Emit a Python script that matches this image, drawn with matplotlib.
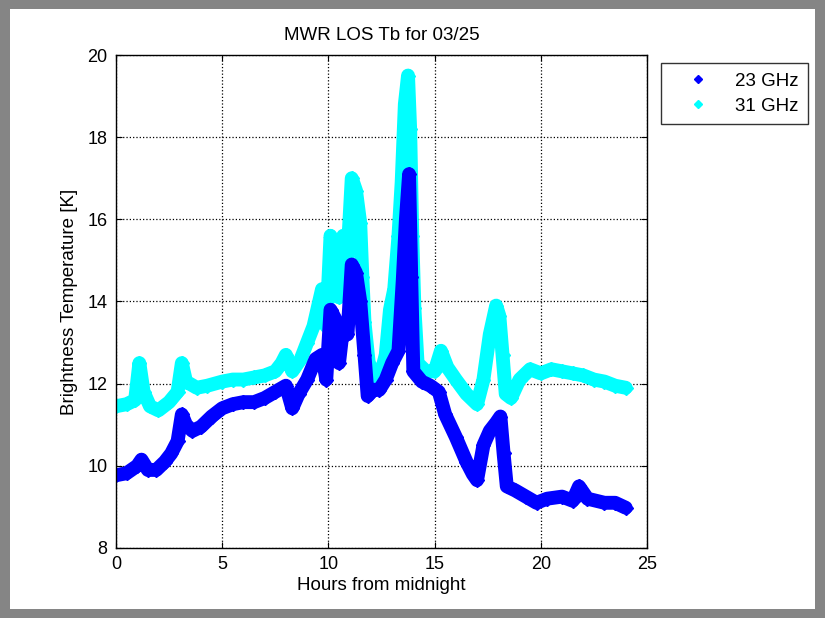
import matplotlib
matplotlib.use('Agg')
from matplotlib import pyplot as plt
from matplotlib.lines import Line2D
from matplotlib.patches import Rectangle
import numpy as np

plt.rcParams['font.family'] = ['Liberation Sans', 'DejaVu Sans']

# 31 GHz brightness temperature
hours_31 = [0.0, 0.5, 0.9, 1.1, 1.3, 1.6, 2.0, 2.5, 2.9, 3.1, 3.3, 3.8, 4.3, 5.0,
            5.5, 6.0, 6.5, 7.0, 7.5, 7.8, 8.0, 8.3, 8.7, 9.0, 9.3, 9.5, 9.7, 9.9,
            10.1, 10.3, 10.5, 10.7, 10.9, 11.1, 11.3, 11.5, 11.6, 11.7, 11.9, 12.1,
            12.4, 12.7, 12.9, 13.1, 13.3, 13.45, 13.6, 13.75, 13.85, 13.95, 14.05,
            14.2, 14.6, 15.0, 15.3, 15.6, 16.0, 16.5, 17.0, 17.3, 17.6, 17.9, 18.05,
            18.2, 18.35, 18.6, 19.0, 19.5, 20.0, 20.5, 21.0, 21.5, 22.0, 22.5, 23.0,
            23.5, 24.0]
tb_31 = [11.45, 11.5, 11.6, 12.5, 11.8, 11.45, 11.35, 11.55, 11.8, 12.5, 12.05,
         11.9, 11.95, 12.05, 12.1, 12.1, 12.15, 12.2, 12.3, 12.5, 12.7, 12.3, 12.6,
         13.0, 13.4, 13.85, 14.3, 13.4, 15.6, 15.1, 14.1, 15.6, 15.1, 17.0, 16.7,
         15.9, 14.6, 13.5, 12.5, 12.2, 12.1, 12.7, 13.8, 14.3, 15.6, 16.9, 18.8,
         19.5, 18.2, 15.6, 13.85, 12.5, 12.3, 12.3, 12.8, 12.4, 12.1, 11.75, 11.5,
         12.1, 13.2, 13.9, 13.65, 12.7, 11.75, 11.65, 12.1, 12.35, 12.25, 12.35,
         12.3, 12.25, 12.2, 12.1, 12.05, 11.95, 11.9]

# 23 GHz brightness temperature
hours_23 = [0.0, 0.5, 1.0, 1.2, 1.5, 1.9, 2.3, 2.6, 2.9, 3.1, 3.3, 3.6, 4.0, 4.5,
            5.0, 5.5, 6.0, 6.5, 7.0, 7.5, 8.0, 8.3, 8.6, 9.0, 9.4, 9.7, 9.9, 10.1,
            10.3, 10.5, 10.7, 10.9, 11.1, 11.3, 11.5, 11.7, 11.85, 12.1, 12.4, 12.7,
            13.0, 13.3, 13.5, 13.65, 13.8, 13.9, 14.0, 14.4, 14.8, 15.2, 15.5, 16.0,
            16.5, 16.8, 17.0, 17.3, 17.6, 17.9, 18.1, 18.25, 18.4, 18.8, 19.3, 19.8,
            20.3, 21.0, 21.5, 21.8, 22.2, 23.0, 23.5, 24.0]
tb_23 = [9.77, 9.82, 10.0, 10.15, 9.9, 9.9, 10.1, 10.3, 10.6, 11.25, 11.0, 10.85,
         10.95, 11.2, 11.4, 11.5, 11.55, 11.55, 11.65, 11.8, 11.95, 11.4, 11.75,
         12.1, 12.6, 12.7, 12.1, 13.8, 13.6, 12.5, 13.4, 13.2, 14.9, 14.7, 14.0,
         12.7, 11.7, 11.85, 11.85, 12.1, 12.5, 12.8, 14.5, 16.0, 17.1, 14.6, 12.3,
         12.05, 11.95, 11.8, 11.25, 10.7, 10.1, 9.8, 9.65, 10.5, 10.85, 11.05, 11.2,
         10.3, 9.5, 9.4, 9.25, 9.1, 9.2, 9.25, 9.15, 9.5, 9.2, 9.1, 9.1, 8.98]

labels = ['23 GHz', '31 GHz']
colors = ['#0000ff', '#00ffff']

fig = plt.figure(figsize=(8.25, 6.18), dpi=100, facecolor='#858585')
fig.patches.append(Rectangle((0.012, 0.015), 0.976, 0.97, transform=fig.transFigure,
                             facecolor='white', edgecolor='none', zorder=-10))

ax = fig.add_axes([0.1406, 0.1133, 0.6436, 0.7977])

for h, tb, c in [(hours_31, tb_31, colors[1]), (hours_23, tb_23, colors[0])]:
    ax.plot(h, tb, '-', color=c, lw=10, solid_joinstyle='round', solid_capstyle='round')
    ax.plot(h, tb, 'D', color=c, ms=7, ls='none')

ax.set_xlim(0, 25)
ax.set_ylim(8, 20)
ax.set_xticks(np.arange(0, 26, 5))
ax.set_yticks(np.arange(8, 21, 2))
ax.grid(True, ls=':', color='black', lw=0.9)
ax.tick_params(direction='in', top=True, right=True, labelsize=13, length=4, pad=6)
for s in ax.spines.values():
    s.set_linewidth(1.0)

ax.set_title('MWR LOS Tb for 03/25', fontsize=13.5, pad=11)
ax.set_xlabel('Hours from midnight', fontsize=13.5, labelpad=3)
ax.set_ylabel('Brightness Temperature [K]', fontsize=13.5, labelpad=7)

handles = [Line2D([], [], marker='D', color=colors[0], ls='none', ms=4),
           Line2D([], [], marker='D', color=colors[1], ls='none', ms=4)]
leg = fig.legend(handles, labels, loc='upper left', bbox_to_anchor=(0.801, 0.898),
                 frameon=True, fancybox=False, edgecolor='black', fontsize=13.5,
                 borderpad=0.5, handletextpad=0.45, handlelength=3.0, labelspacing=0.44,
                 borderaxespad=0, markerfirst=True)
leg.get_frame().set_linewidth(1.0)

plt.savefig('out.png', dpi=100, facecolor=fig.get_facecolor())
